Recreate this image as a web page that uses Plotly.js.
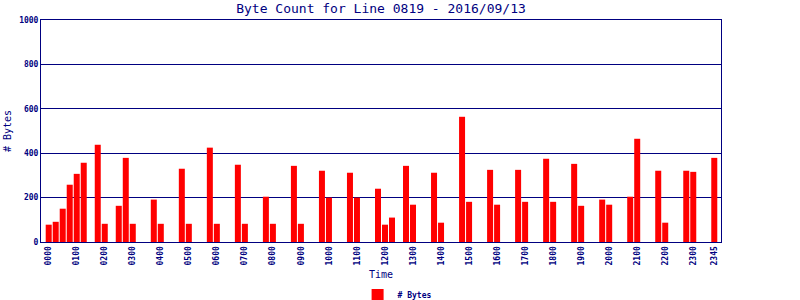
<!DOCTYPE html>
<html>
<head>
<meta charset="utf-8">
<script src="https://cdn.plot.ly/plotly-3.0.1.min.js"></script>
<style>html,body{margin:0;padding:0;background:#fff;}#chart{width:800px;height:300px;}</style>
</head>
<body>
<div id="chart"></div>
<script>
// Data
const times = ["0000","0015","0030","0045","0100","0115","0145","0200","0230","0245","0300",
  "0345","0400","0445","0500","0545","0600","0645","0700","0745","0800","0845","0900",
  "0945","1000","1045","1100","1145","1200","1215","1245","1300","1345","1400","1445","1500",
  "1545","1600","1645","1700","1745","1800","1845","1900","1945","2000","2045","2100",
  "2145","2200","2245","2300","2345"];
const bytes = [78,91,150,258,307,357,438,82,163,379,82,
  191,82,330,82,425,82,348,82,204,82,343,82,
  321,200,312,200,240,78,110,343,168,312,87,564,181,
  325,168,325,181,375,181,352,163,191,168,204,465,
  321,87,321,316,379];
const tickLabels = ["0000","0100","0200","0300","0400","0500","0600","0700","0800","0900",
  "1000","1100","1200","1300","1400","1500","1600","1700","1800","1900","2000","2100",
  "2200","2300","2345"];
const yTicks = [0,200,400,600,800,1000];

const toMin = t => parseInt(t.slice(0,2),10)*60 + parseInt(t.slice(2),10);
const navy = "#000080";
const mono = "DejaVu Sans Mono";

const trace = {
  type: "bar",
  name: "# Bytes",
  x: times.map(toMin),
  y: bytes,
  marker: {color: "#ff0000", line: {width: 0}},
  hoverinfo: "skip"
};

const layout = {
  width: 800, height: 300,
  paper_bgcolor: "#ffffff", plot_bgcolor: "#ffffff",
  margin: {l: 41, r: 79, t: 20, b: 58, pad: 0},
  bargap: 0.143,
  title: {text: "Byte Count for Line 0819 - 2016/09/13", font: {family: mono, size: 13, color: navy},
          x: 0.5, xref: "paper", xanchor: "center", y: 0.972, yref: "container", yanchor: "middle"},
  xaxis: {
    type: "linear",
    range: [-16.5, 1439.4],
    tickmode: "array",
    tickvals: tickLabels.map(toMin),
    ticktext: tickLabels,
    tickangle: -90,
    tickfont: {family: mono, size: 8, color: navy, weight: "bold"},
    ticks: "", showgrid: false, zeroline: false,
    showline: true, linecolor: navy, linewidth: 1, mirror: true,
    title: {text: "Time", font: {family: mono, size: 10, color: navy}, standoff: 25},
    automargin: false
  },
  yaxis: {
    range: [0, 1000],
    tickmode: "array",
    tickvals: yTicks,
    tickfont: {family: mono, size: 8, color: navy, weight: "bold"},
    ticks: "", ticklen: 0,
    showgrid: true, gridcolor: navy, gridwidth: 1,
    zeroline: false,
    showline: true, linecolor: navy, linewidth: 1, mirror: true,
    title: {text: "# Bytes", font: {family: mono, size: 10, color: navy}, standoff: 5},
    automargin: false
  },
  showlegend: true,
  legend: {
    orientation: "h", xref: "container", x: 0.447, xanchor: "left",
    yref: "container", y: 0.0167, yanchor: "middle",
    font: {family: mono, size: 8, color: navy, weight: "bold"},
    bgcolor: "rgba(0,0,0,0)", borderwidth: 0
  }
};

Plotly.newPlot("chart", [trace], layout, {displayModeBar: false, staticPlot: true});
</script>
</body>
</html>
